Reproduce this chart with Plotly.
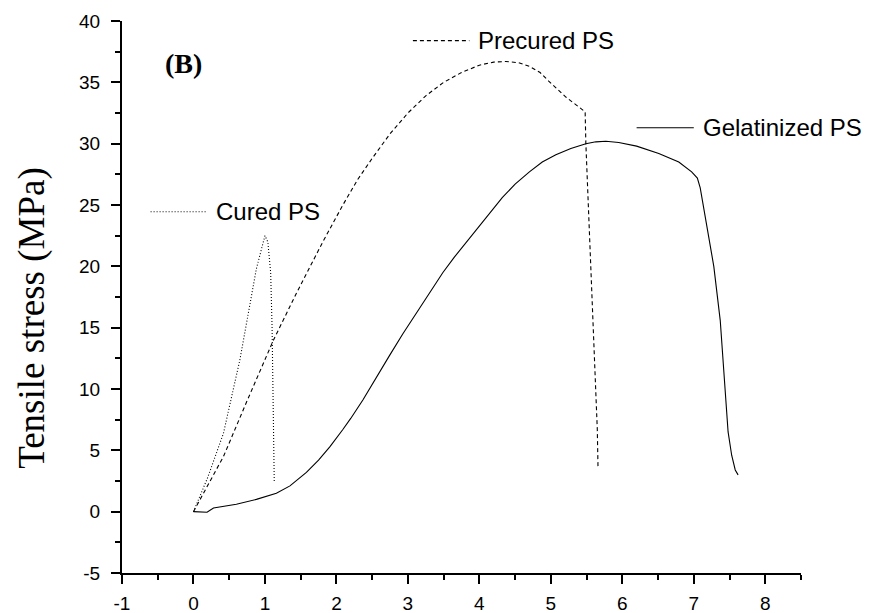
import plotly.graph_objects as go

# Gelatinized PS (solid)
gel_x = [0.0, 0.19, 0.28, 0.6, 0.88, 1.16, 1.35, 1.58, 1.75, 1.91, 2.09, 2.2, 2.37, 2.55, 2.74, 2.93, 3.12, 3.3, 3.49, 3.65, 3.81, 4.0, 4.16, 4.32, 4.50, 4.70, 4.88, 5.07, 5.28, 5.49, 5.63, 5.77, 5.95, 6.2, 6.51, 6.79, 6.97, 7.05, 7.09, 7.18, 7.28, 7.37, 7.44, 7.48, 7.53, 7.58, 7.62]
gel_y = [0.0, -0.05, 0.3, 0.6, 1.0, 1.5, 2.1, 3.2, 4.2, 5.3, 6.7, 7.6, 9.1, 10.9, 12.7, 14.5, 16.2, 17.9, 19.5, 20.75, 21.9, 23.3, 24.5, 25.6, 26.7, 27.7, 28.5, 29.1, 29.6, 30.0, 30.15, 30.2, 30.1, 29.8, 29.2, 28.5, 27.7, 27.2, 26.4, 23.3, 20.0, 15.6, 10.2, 6.5, 4.6, 3.4, 3.0]

# Precured PS (dashed)
pre_x = [0.0, 0.42, 0.74, 1.12, 1.44, 1.81, 2.09, 2.3, 2.5, 2.75, 3.0, 3.25, 3.5, 3.75, 4.0, 4.2, 4.37, 4.55, 4.70, 4.85, 4.97, 5.1, 5.21, 5.39, 5.48, 5.49, 5.56, 5.65, 5.66]
pre_y = [0.0, 4.5, 8.9, 14.0, 17.8, 22.0, 25.0, 27.1, 28.8, 30.8, 32.5, 33.9, 35.0, 35.8, 36.4, 36.65, 36.7, 36.6, 36.3, 35.8, 35.1, 34.4, 33.8, 33.0, 32.6, 30.0, 19.5, 6.7, 3.6]

# Cured PS (dotted)
cur_x = [0.0, 0.2, 0.42, 0.65, 0.88, 0.97, 1.0, 1.04, 1.08, 1.1, 1.12, 1.13]
cur_y = [0.0, 2.8, 6.4, 12.4, 19.8, 22.0, 22.5, 22.0, 19.5, 15.0, 8.0, 2.5]

# Inline labels
label_names = ["Cured PS", "Precured PS", "Gelatinized PS"]
label_line_x0 = [-0.6, 3.07, 6.20]
label_line_x1 = [0.19, 3.86, 7.00]
label_y = [24.45, 38.4, 31.3]
label_dash = ["1px,2px", "4px,3px", "solid"]

x_tickvals = [-1, 0, 1, 2, 3, 4, 5, 6, 7, 8]
x_ticktext = ["-1", "0", "1", "2", "3", "4", "5", "6", "7", "8"]
y_tickvals = [-5, 0, 5, 10, 15, 20, 25, 30, 35, 40]
y_ticktext = ["-5", "0", "5", "10", "15", "20", "25", "30", "35", "40"]

x_range = [-1, 8.5]
y_range = [-5, 40]

font_sans = "Liberation Sans, Arial, sans-serif"
font_serif = "Liberation Serif, Times New Roman, serif"

fig = go.Figure()
fig.add_trace(go.Scatter(x=gel_x, y=gel_y, mode="lines",
                         line=dict(color="black", width=1.1), showlegend=False))
fig.add_trace(go.Scatter(x=pre_x, y=pre_y, mode="lines",
                         line=dict(color="black", width=1.1, dash="4px,3px"), showlegend=False))
fig.add_trace(go.Scatter(x=cur_x, y=cur_y, mode="lines",
                         line=dict(color="black", width=1.1, dash="1px,2px"), showlegend=False))

for name, x0, x1, yy, dash in zip(label_names, label_line_x0, label_line_x1, label_y, label_dash):
    fig.add_shape(type="line", x0=x0, x1=x1, y0=yy, y1=yy, xref="x", yref="y",
                  line=dict(color="black", width=1.1, dash=dash))
    fig.add_annotation(x=x1, y=yy, xref="x", yref="y", text=name, showarrow=False,
                       xanchor="left", yanchor="middle", xshift=7,
                       font=dict(family=font_sans, size=24, color="black"))

fig.add_annotation(x=-0.14, y=36.5, xref="x", yref="y", text="<b>(B)</b>", showarrow=False,
                   xanchor="center", yanchor="middle",
                   font=dict(family=font_serif, size=28, color="black"))

fig.add_annotation(x=0, y=15.8, xref="paper", yref="y", xshift=-90, text="Tensile stress (MPa)",
                   showarrow=False, textangle=-90, xanchor="center", yanchor="middle",
                   font=dict(family=font_serif, size=37, color="black"))

axis_common = dict(showline=True, linecolor="black", linewidth=2, ticks="outside",
                   ticklen=9, tickwidth=2, tickcolor="black", showgrid=False, zeroline=False,
                   mirror=False, automargin=False,
                   tickfont=dict(family=font_sans, size=19, color="black"))

fig.update_xaxes(range=x_range, tickmode="array", tickvals=x_tickvals, ticktext=x_ticktext,
                 minor=dict(tickmode="linear", tick0=0, dtick=0.5, ticklen=5, tickwidth=2,
                            tickcolor="black", ticks="outside", showgrid=False),
                 ticklabelstandoff=3, **axis_common)
fig.update_yaxes(range=y_range, tickmode="array", tickvals=y_tickvals, ticktext=y_ticktext,
                 minor=dict(tickmode="linear", tick0=0, dtick=2.5, ticklen=5, tickwidth=2,
                            tickcolor="black", ticks="outside", showgrid=False),
                 ticklabelstandoff=7, **axis_common)

fig.update_layout(width=875, height=613, margin=dict(l=122, r=74, t=21, b=40),
                  paper_bgcolor="white", plot_bgcolor="white", showlegend=False)

fig.write_html("out.html")
